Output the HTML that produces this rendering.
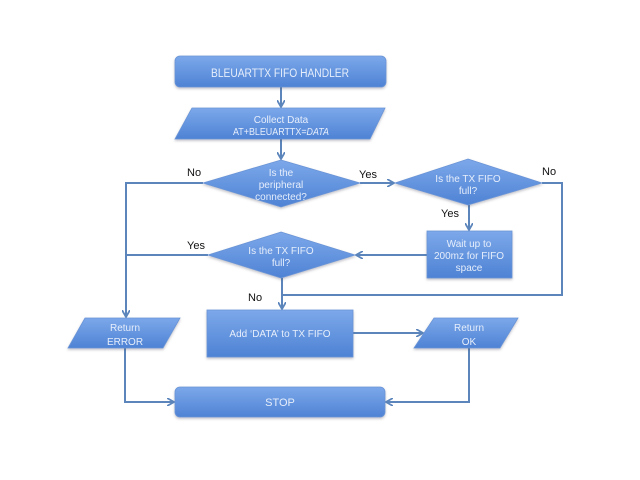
<!DOCTYPE html>
<html><head><meta charset="utf-8"><style>
html,body{margin:0;padding:0;background:#fff;}
svg{display:block;}
.t{font-family:"Liberation Sans",sans-serif;font-size:10px;fill:#e6eefb;text-anchor:middle;}
.l{font-family:"Liberation Sans",sans-serif;font-size:11px;fill:#111;}
.ln{stroke:#5b85bb;stroke-width:2;fill:none;}
</style></head><body>
<svg width="640" height="480" viewBox="0 0 640 480" xmlns="http://www.w3.org/2000/svg">
<defs>
<linearGradient id="g" x1="0" y1="0" x2="0" y2="1">
<stop offset="0" stop-color="#7ca8ea"/>
<stop offset="1" stop-color="#4e82d4"/>
</linearGradient>
<marker id="a" markerWidth="8" markerHeight="8" refX="7" refY="4" orient="auto" markerUnits="userSpaceOnUse">
<path d="M0,0 L7,4 L0,8" fill="none" stroke="#5b85bb" stroke-width="1.8"/>
</marker>
<filter id="s" x="-10%" y="-10%" width="120%" height="130%">
<feDropShadow dx="0" dy="1.5" stdDeviation="1.2" flood-color="#556" flood-opacity="0.35"/>
</filter>
</defs>
<rect width="640" height="480" fill="#fff"/>

<!-- connectors -->
<line class="ln" x1="281" y1="87" x2="281" y2="107" marker-end="url(#a)"/>
<line class="ln" x1="281" y1="139" x2="281" y2="159" marker-end="url(#a)"/>
<line class="ln" x1="360" y1="183" x2="394" y2="183" marker-end="url(#a)"/>
<line class="ln" x1="469" y1="205" x2="469" y2="230" marker-end="url(#a)"/>
<line class="ln" x1="427" y1="255" x2="356" y2="255" marker-end="url(#a)"/>
<polyline class="ln" points="542,183 562,183 562,295 282,295"/>
<line class="ln" x1="282" y1="278" x2="282" y2="309" marker-end="url(#a)"/>
<polyline class="ln" points="203,183 126,183 126,317" marker-end="url(#a)"/>
<line class="ln" x1="208" y1="255" x2="126" y2="255"/>
<line class="ln" x1="353" y1="333" x2="423" y2="333" marker-end="url(#a)"/>
<polyline class="ln" points="125,348 125,402 174,402" marker-end="url(#a)"/>
<polyline class="ln" points="469,348 469,402 386,402" marker-end="url(#a)"/>

<!-- shapes -->
<g filter="url(#s)" fill="url(#g)" stroke="#6a94d6" stroke-width="0.8">
<rect x="175" y="56" width="211" height="31" rx="5"/>
<polygon points="192,108 385,108 370,139 175,139"/>
<polygon points="281,160 360,183 281,207 203,183"/>
<polygon points="468,159 542,183 468,205 395,183"/>
<rect x="427" y="231" width="85" height="47"/>
<polygon points="281,232 355,255 281,278 208,255"/>
<rect x="207" y="310" width="146" height="47"/>
<polygon points="85,318 180,318 163,348 68,348"/>
<polygon points="434,318 518,318 500,348 414,348"/>
<rect x="175" y="387" width="210" height="30" rx="5"/>
</g>

<!-- shape text -->
<text class="t" x="280" y="77" style="font-size:11.5px" textLength="138" lengthAdjust="spacingAndGlyphs">BLEUARTTX FIFO HANDLER</text>
<text class="t" x="281" y="123">Collect Data</text>
<text class="t" x="281" y="135" textLength="96" lengthAdjust="spacingAndGlyphs">AT+BLEUARTTX=<tspan font-style="italic">DATA</tspan></text>
<text class="t" x="281" y="176">Is the</text>
<text class="t" x="281" y="188">peripheral</text>
<text class="t" x="281" y="200">connected?</text>
<text class="t" x="468" y="182">Is the TX FIFO</text>
<text class="t" x="468" y="194">full?</text>
<text class="t" x="469" y="247">Wait up to</text>
<text class="t" x="469" y="259">200mz for FIFO</text>
<text class="t" x="469" y="271">space</text>
<text class="t" x="281" y="254">Is the TX FIFO</text>
<text class="t" x="281" y="266">full?</text>
<text class="t" x="280" y="337">Add ‘DATA’ to TX FIFO</text>
<text class="t" x="125" y="331">Return</text>
<text class="t" x="125" y="345">ERROR</text>
<text class="t" x="469" y="331">Return</text>
<text class="t" x="469" y="345">OK</text>
<text class="t" x="280" y="406" style="font-size:11px">STOP</text>

<!-- labels -->
<text class="l" x="187" y="176">No</text>
<text class="l" x="359" y="178">Yes</text>
<text class="l" x="542" y="175">No</text>
<text class="l" x="441" y="217">Yes</text>
<text class="l" x="187" y="249">Yes</text>
<text class="l" x="248" y="301">No</text>
</svg>
</body></html>
